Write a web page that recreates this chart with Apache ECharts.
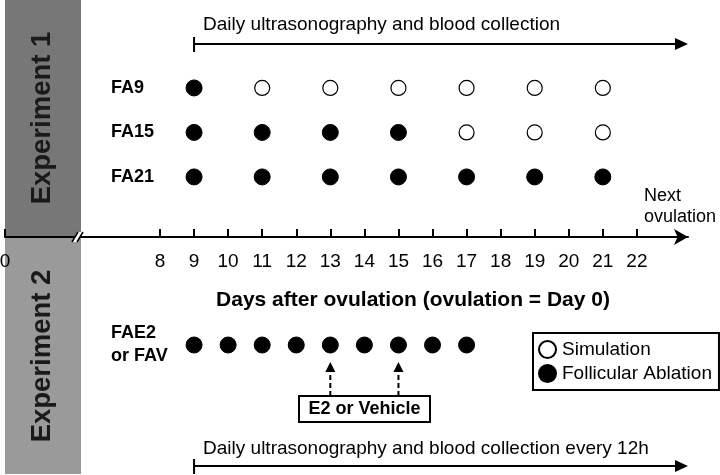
<!DOCTYPE html>
<html><head><meta charset="utf-8">
<script src="https://cdn.jsdelivr.net/npm/echarts@6/dist/echarts.min.js"></script>
<style>html,body{margin:0;padding:0;background:#fff}#c{width:720px;height:475px}</style>
</head><body><div id="c"></div>
<script>
// ---- data ----
const tickDays = [0, 8, 9, 10, 11, 12, 13, 14, 15, 16, 17, 18, 19, 20, 21, 22];
const exp1Rows = ['FA9', 'FA15', 'FA21'];
const fa9Ablation = [9];
const fa9Simulation = [11, 13, 15, 17, 19, 21];
const fa15Ablation = [9, 11, 13, 15];
const fa15Simulation = [17, 19, 21];
const fa21Ablation = [9, 11, 13, 15, 17, 19, 21];
const fa21Simulation = [];
const exp2Row = 'FAE2\nor FAV';
const faE2Ablation = [9, 10, 11, 12, 13, 14, 15, 16, 17];
const e2Days = [13, 15];
const monitorStartDay = 9;
const texts = {
  top: 'Daily ultrasonography and blood collection',
  bottom: 'Daily ultrasonography and blood collection every 12h',
  axisTitle: 'Days after ovulation (ovulation = Day 0)',
  next: 'Next\novulation',
  exp1: 'Experiment 1',
  exp2: 'Experiment 2',
  e2box: 'E2 or Vehicle'
};

// ---- layout helpers ----
const FONT = 'Liberation Sans, Arial, sans-serif';
const ZERO_POS = 3.45; // display position of day 0 across the axis break
const X_MAX = 23.5;
const rowValue = name => exp1Rows.length - exp1Rows.indexOf(name);
const pts = (days, row) => days.map(d => [d, rowValue(row)]);

const ablation1 = [].concat(pts(fa9Ablation, 'FA9'), pts(fa15Ablation, 'FA15'), pts(fa21Ablation, 'FA21'));
const simulation1 = [].concat(pts(fa9Simulation, 'FA9'), pts(fa15Simulation, 'FA15'), pts(fa21Simulation, 'FA21'));
const ablation2 = faE2Ablation.map(d => [d, exp2Row]);

const chart = echarts.init(document.getElementById('c'), null, {renderer: 'canvas'});
const filled = {color: '#000', borderColor: '#000', borderWidth: 1, opacity: 1};
const open = {color: '#fff', borderColor: '#000', borderWidth: 1.2, opacity: 1};

chart.setOption({
  animation: false,
  textStyle: {fontFamily: FONT},
  grid: [
    {left: 5, right: 32, top: 65.7, bottom: 238, containLabel: false, outerBoundsMode: 'none'},
    {left: 5, right: 32, top: 331, height: 28, containLabel: false, outerBoundsMode: 'none'}
  ],
  xAxis: [
    {
      type: 'value', gridIndex: 0, min: ZERO_POS, max: X_MAX, position: 'bottom',
      axisLine: {onZero: false, lineStyle: {color: '#000', width: 2}, symbol: ['none', 'arrow'], symbolSize: [12, 14], symbolOffset: [0, 0]},
      axisTick: {inside: true, length: 8, lineStyle: {color: '#000', width: 2}, customValues: tickDays.map(d => d === 0 ? ZERO_POS : d)},
      axisLabel: {color: '#000', fontSize: 19, margin: 15, fontFamily: FONT,
        customValues: tickDays.map(d => d === 0 ? ZERO_POS : d),
        formatter: v => v < 8 ? '0' : String(Math.round(v))},
      splitLine: {show: false}
    },
    {type: 'value', gridIndex: 1, min: ZERO_POS, max: X_MAX, show: false}
  ],
  yAxis: [
    {
      type: 'value', gridIndex: 0, min: -0.35, max: 3.5,
      axisLine: {show: false}, axisTick: {show: false}, splitLine: {show: false},
      axisLabel: {inside: true, margin: 106, align: 'left', color: '#000', fontSize: 18, fontWeight: 'bold', fontFamily: FONT,
        customValues: exp1Rows.map(rowValue),
        formatter: v => exp1Rows[exp1Rows.length - Math.round(v)] || ''}
    },
    {
      type: 'category', gridIndex: 1, data: [exp2Row],
      axisLine: {show: false}, axisTick: {show: false}, splitLine: {show: false},
      axisLabel: {inside: true, margin: 106, align: 'left', color: '#000', fontSize: 18, fontWeight: 'bold', lineHeight: 23, fontFamily: FONT}
    }
  ],
  legend: {
    orient: 'vertical', left: 533, top: 333,
    data: [{name: 'Simulation', icon: 'circle'}, {name: 'Follicular Ablation', icon: 'circle'}],
    borderColor: '#000', borderWidth: 2, padding: [7, 7, 7, 5], itemGap: 5,
    itemWidth: 17, itemHeight: 17, selectedMode: false,
    textStyle: {fontSize: 19, color: '#000', fontFamily: FONT, padding: [0, 0, 0, 1]}
  },
  series: [
    {name: 'Follicular Ablation', type: 'scatter', xAxisIndex: 0, yAxisIndex: 0, data: ablation1, symbolSize: 16, itemStyle: filled},
    {name: 'Simulation', type: 'scatter', xAxisIndex: 0, yAxisIndex: 0, data: simulation1, symbolSize: 15, itemStyle: open},
    {name: 'Follicular Ablation', type: 'scatter', xAxisIndex: 1, yAxisIndex: 1, data: ablation2, symbolSize: 16, itemStyle: filled}
  ]
});

// ---- annotations positioned through the axes ----
const px = d => chart.convertToPixel({xAxisIndex: 0}, d);
const x9 = px(monitorStartDay);
const xEnd = px(X_MAX);
const axisY = chart.convertToPixel({yAxisIndex: 0}, -0.35);
const rowE2Y = chart.convertToPixel({yAxisIndex: 1}, exp2Row);
const xZero = px(ZERO_POS);

function timeArrow(y) {
  return [
    {type: 'line', shape: {x1: x9, y1: y - 7, x2: x9, y2: y + 8}, style: {stroke: '#000', lineWidth: 2}},
    {type: 'line', shape: {x1: x9, y1: y, x2: xEnd - 10, y2: y}, style: {stroke: '#000', lineWidth: 2}},
    {type: 'polygon', shape: {points: [[xEnd - 13, y - 6], [xEnd, y], [xEnd - 13, y + 6]]}, style: {fill: '#000'}}
  ];
}
function upArrow(x, yBottom, yTip) {
  return [
    {type: 'line', shape: {x1: x, y1: yBottom, x2: x, y2: yTip + 8}, style: {stroke: '#000', lineWidth: 2, lineDash: [5, 3]}},
    {type: 'polygon', shape: {points: [[x - 5, yTip + 10], [x, yTip], [x + 5, yTip + 10]]}, style: {fill: '#000'}}
  ];
}

const els = [
  {type: 'rect', z: -10, shape: {x: xZero, y: 0, width: 76, height: axisY}, style: {fill: '#777777'}},
  {type: 'rect', z: -10, shape: {x: xZero, y: axisY, width: 76, height: 475 - axisY - 1}, style: {fill: '#9a9a9a'}},
  {type: 'text', x: 42, y: 118, rotation: Math.PI / 2, style: {text: texts.exp1, font: 'bold 27.5px ' + FONT, fill: '#1a1a1a', align: 'center', verticalAlign: 'middle'}},
  {type: 'text', x: 42, y: 356, rotation: Math.PI / 2, style: {text: texts.exp2, font: 'bold 27.5px ' + FONT, fill: '#1a1a1a', align: 'center', verticalAlign: 'middle'}},
  // axis break
  {type: 'polygon', z: 100, shape: {points: [[72, axisY + 5], [78, axisY - 5], [83, axisY - 5], [77, axisY + 5]]}, style: {fill: '#fff'}},
  {type: 'line', z: 101, shape: {x1: 72, y1: axisY + 5, x2: 78, y2: axisY - 5}, style: {stroke: '#000', lineWidth: 1.5}},
  {type: 'line', z: 101, shape: {x1: 77, y1: axisY + 5, x2: 83, y2: axisY - 5}, style: {stroke: '#000', lineWidth: 1.5}},
  {type: 'text', x: x9 + 9, y: 25, style: {text: texts.top, font: '19px ' + FONT, fill: '#000', verticalAlign: 'middle'}},
  {type: 'text', x: x9 + 9, y: 449, style: {text: texts.bottom, font: '19px ' + FONT, fill: '#000', verticalAlign: 'middle'}},
  {type: 'text', x: 644, y: 207, style: {text: texts.next, font: '18px ' + FONT, fill: '#000', verticalAlign: 'middle', lineHeight: 21}},
  {type: 'text', x: 413, y: 300, style: {text: texts.axisTitle, font: 'bold 21px ' + FONT, fill: '#000', align: 'center', verticalAlign: 'middle'}},
  {type: 'rect', shape: {x: 299, y: 396, width: 131, height: 26}, style: {fill: '#fff', stroke: '#000', lineWidth: 2}},
  {type: 'text', x: 364.5, y: 409, style: {text: texts.e2box, font: 'bold 18px ' + FONT, fill: '#000', align: 'center', verticalAlign: 'middle'}}
].concat(timeArrow(44), timeArrow(466));
e2Days.forEach(d => { upArrow(px(d), 396, rowE2Y + 17).forEach(e => els.push(e)); });
chart.setOption({graphic: {elements: els}});
</script></body></html>
